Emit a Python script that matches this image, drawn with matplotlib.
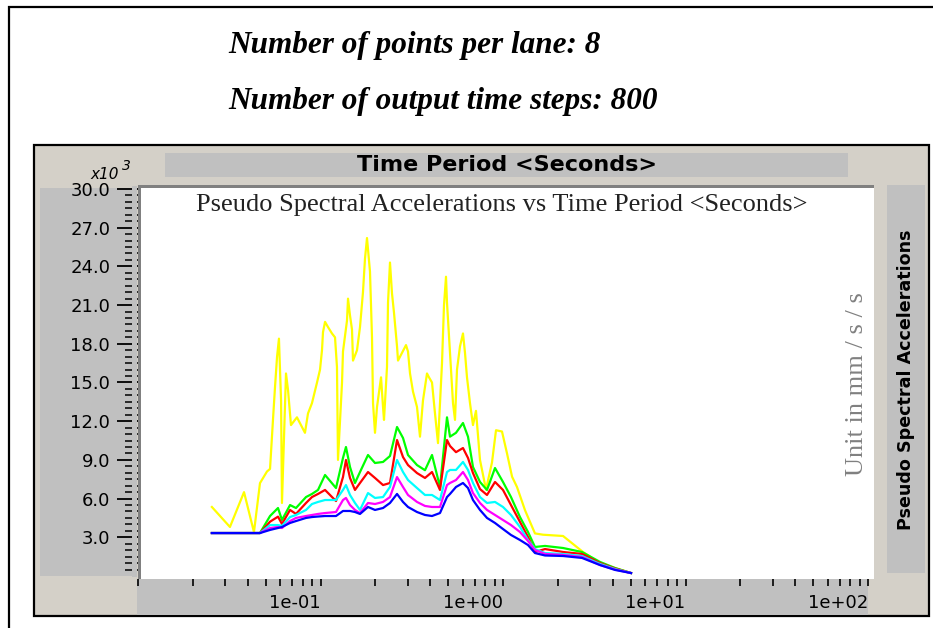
import matplotlib
matplotlib.use("Agg")
import matplotlib.pyplot as plt
from matplotlib.patches import Rectangle
from matplotlib.ticker import FixedLocator
from matplotlib import font_manager

W, H = 933, 628

# ============ DATA ============
# periods (seconds) shared by the five smoother spectra
periods = [0.0254, 0.0466, 0.0529, 0.0585, 0.0615, 0.0681, 0.0734, 0.0833, 0.0898, 0.0969,
           0.1059, 0.1216, 0.1328, 0.1379, 0.1451, 0.1545, 0.1646, 0.1821, 0.1989, 0.2201,
           0.2403, 0.2626, 0.2832, 0.3016, 0.3379, 0.3737, 0.4083, 0.4516, 0.4933, 0.5124,
           0.5526, 0.6036, 0.643, 0.6847, 0.748, 0.8172, 0.9041, 1.0, 1.106, 1.239,
           1.371, 1.497, 1.699, 2.133, 2.71, 3.40, 4.108, 5.03]

# accelerations in x10^3 mm/s/s
green = [3.33, 3.33, 4.65, 5.27, 4.34, 5.50, 5.27, 6.12, 6.36, 6.67,
         7.83, 6.82, 9.15, 10.0, 8.45, 7.21, 8.06, 9.38, 8.76, 8.84,
         9.3, 11.55, 10.7, 9.38, 8.6, 8.2, 9.38, 6.9, 12.3, 10.8,
         11.1, 11.86, 10.8, 8.45, 7.29, 6.67, 8.37, 7.29, 6.12, 4.57,
         3.41, 2.25, 2.33, 2.17, 1.86, 1.09, 0.62, 0.23]
red = [3.33, 3.33, 4.21, 4.60, 4.03, 5.12, 4.81, 5.66, 6.12, 6.36,
       6.67, 5.81, 7.67, 8.99, 7.6, 6.67, 7.21, 8.06, 7.6, 7.05,
       7.21, 10.54, 9.22, 8.6, 7.98, 7.6, 8.06, 6.67, 10.54, 10.08,
       9.6, 9.92, 9.15, 7.98, 6.74, 6.28, 7.29, 6.67, 5.5, 4.19,
       3.02, 1.86, 2.09, 1.86, 1.71, 1.0, 0.58, 0.23]
cyan = [3.33, 3.33, 3.95, 3.95, 3.88, 4.57, 4.73, 5.12, 5.58, 5.74,
        5.89, 5.89, 6.67, 7.05, 6.28, 5.66, 5.12, 6.43, 6.05, 6.12,
        6.9, 8.99, 8.06, 7.44, 6.82, 6.28, 6.28, 5.89, 8.06, 8.22,
        8.22, 8.84, 8.22, 7.21, 6.12, 5.66, 5.74, 5.35, 4.73, 3.8,
        2.79, 2.09, 1.78, 1.71, 1.55, 0.93, 0.54, 0.23]
magenta = [3.33, 3.33, 3.72, 3.80, 3.72, 4.26, 4.50, 4.65, 4.73, 4.81,
           4.88, 4.96, 5.89, 6.05, 5.5, 5.12, 4.88, 5.66, 5.58, 5.74,
           6.12, 7.67, 6.9, 6.28, 5.74, 5.43, 5.35, 5.35, 7.05, 7.21,
           7.44, 8.06, 7.44, 6.43, 5.66, 5.12, 4.73, 4.34, 3.95, 3.41,
           2.71, 2.02, 1.71, 1.63, 1.47, 0.85, 0.5, 0.23]
blue = [3.33, 3.33, 3.57, 3.72, 3.80, 4.11, 4.26, 4.50, 4.57, 4.61,
        4.65, 4.65, 5.04, 5.04, 5.04, 4.96, 4.81, 5.35, 5.12, 5.27,
        5.66, 6.36, 5.74, 5.35, 4.96, 4.73, 4.65, 4.88, 6.12, 6.36,
        6.9, 7.21, 6.82, 5.89, 5.12, 4.50, 4.11, 3.64, 3.18, 2.79,
        2.4, 1.78, 1.59, 1.55, 1.40, 0.85, 0.47, 0.23]

# the spiky top spectrum has its own periods
yellow_periods = [0.0254, 0.0319, 0.0381, 0.0432, 0.0466, 0.0509, 0.0529, 0.0549, 0.0563, 0.0578,
                  0.0592, 0.0608, 0.0615, 0.0647, 0.0664, 0.0689, 0.0743, 0.0822, 0.0854, 0.0898,
                  0.0957, 0.0994, 0.1019, 0.1032, 0.1059, 0.1099, 0.1156, 0.1201, 0.1231, 0.1247,
                  0.1312, 0.1328, 0.1397, 0.1415, 0.1451, 0.1488, 0.1507, 0.1585, 0.1646, 0.1709,
                  0.1753, 0.1798, 0.1867, 0.1915, 0.1940, 0.1989, 0.2040, 0.2146, 0.2201, 0.2228,
                  0.2314, 0.2344, 0.2403, 0.2465, 0.2528, 0.2626, 0.2659, 0.2797, 0.2941, 0.3016,
                  0.3094, 0.3212, 0.3379, 0.3509, 0.3643, 0.3833, 0.3931, 0.4083, 0.4240, 0.4404,
                  0.4632, 0.4750, 0.4872, 0.4933, 0.5124, 0.5321, 0.5457, 0.5597, 0.5812, 0.6036,
                  0.6191, 0.6349, 0.6594, 0.6847, 0.7111, 0.7480, 0.8069, 0.8703, 0.9155, 0.9874,
                  1.052, 1.121, 1.193, 1.320, 1.497, 1.657, 2.133, 2.744, 3.40, 4.108, 5.03]
yellow = [5.35, 3.80, 6.5, 3.4, 7.2, 8.1, 8.3, 12.1, 14.6, 17.0,
          18.4, 13.6, 5.66, 15.7, 14.4, 11.7, 12.3, 11.1, 12.6, 13.4,
          15.0, 16.0, 17.5, 18.9, 19.7, 19.3, 18.8, 18.5, 16.2, 9.0,
          15.0, 17.4, 19.8, 21.5, 20.2, 19.1, 16.7, 17.5, 19.3, 22.0,
          24.6, 26.2, 23.6, 18.5, 13.4, 11.1, 13.1, 15.4, 13.1, 12.1,
          16.2, 21.2, 24.3, 21.9, 20.4, 17.8, 16.7, 17.3, 17.9, 17.4,
          15.7, 14.3, 13.1, 10.8, 13.6, 15.7, 15.4, 15.0, 12.6, 10.3,
          16.5, 21.0, 23.2, 21.2, 17.3, 13.4, 12.1, 16.0, 17.8, 18.8,
          17.3, 15.4, 13.4, 11.7, 12.8, 9.0, 6.7, 8.8, 11.3, 11.2,
          9.5, 7.7, 6.9, 5.1, 3.3, 3.2, 3.1, 1.86, 1.0, 0.62, 0.23]

x_major = [0.01, 0.1, 1, 10, 100]
x_labels = ["", "1e-01", "1e+00", "1e+01", "1e+02"]
y_major = [3, 6, 9, 12, 15, 18, 21, 24, 27, 30]

BEIGE = "#D4D0C8"
PANEL = "#C0C0C0"


def frac_box(x0, y0, x1, y1):
    """pixel box (y measured from top) -> figure fraction rect"""
    return (x0 / W, 1 - y1 / H), (x1 - x0) / W, (y1 - y0) / H


def add_box(fig, x0, y0, x1, y1, z, **kw):
    xy, w, h = frac_box(x0, y0, x1, y1)
    r = Rectangle(xy, w, h, transform=fig.transFigure, zorder=z, **kw)
    fig.add_artist(r)
    return r


fig = plt.figure(figsize=(W / 100, H / 100), dpi=100)
fig.patch.set_facecolor("white")

# frames and panels
add_box(fig, 9, 7, 945, 645, -6, facecolor="white", edgecolor="black", linewidth=1.6)
add_box(fig, 34, 145, 929, 616, -5, facecolor=BEIGE, edgecolor="black", linewidth=1.6)
add_box(fig, 165, 153, 848, 177, -4, facecolor=PANEL, edgecolor="none")
add_box(fig, 40, 188, 137, 576, -4, facecolor=PANEL, edgecolor="none")
add_box(fig, 137, 579, 868, 615, -4, facecolor=PANEL, edgecolor="none")
add_box(fig, 887, 185, 925, 573, -4, facecolor=PANEL, edgecolor="none")
add_box(fig, 141, 188, 874, 579, -4, facecolor="white", edgecolor="none")
add_box(fig, 138, 185, 874, 188, -3, facecolor="#808080", edgecolor="none")
add_box(fig, 138, 185, 141, 579, -3, facecolor="#808080", edgecolor="none")

ax = fig.add_axes([138 / W, 1 - 579 / H, 730 / W, 390 / H])
ax.patch.set_alpha(0)
for s in ax.spines.values():
    s.set_visible(False)

ax.plot(yellow_periods, yellow, color="#FFFF00", lw=1.6)
ax.plot(periods, green, color="#00FF00", lw=1.6)
ax.plot(periods, red, color="#FF0000", lw=1.6)
ax.plot(periods, cyan, color="#00FFFF", lw=1.6)
ax.plot(periods, magenta, color="#FF00FF", lw=1.6)
ax.plot(periods, blue, color="#0000FF", lw=1.6)

ax.set_xscale("log")
ax.set_xlim(0.01, 100)
ax.set_ylim(-0.233, 30.0)

ax.xaxis.set_major_locator(FixedLocator(x_major))
ax.xaxis.set_minor_locator(matplotlib.ticker.LogLocator(base=10, subs=range(2, 10)))
ax.set_xticklabels(x_labels, ha="right")
ax.xaxis.set_minor_formatter(matplotlib.ticker.NullFormatter())
ax.tick_params(axis="x", which="both", direction="out", length=5, width=1.2,
               color="black", labelsize=13, pad=6, labelcolor="black")

ax.yaxis.set_major_locator(FixedLocator(y_major))
ax.yaxis.set_minor_locator(FixedLocator([v / 2 for v in range(1, 60) if v % 6 != 0]))
ax.set_yticklabels([f"{v:.1f}" for v in y_major])
ax.tick_params(axis="y", which="major", direction="out", length=15, width=1.3,
               color="black", labelsize=13, pad=5)
ax.tick_params(axis="y", which="minor", direction="out", length=9.4, width=1.1,
               color="black")

# gap between tick marks and the plot edge
add_box(fig, 132, 186, 137, 577, 5, facecolor=PANEL, edgecolor="none")

# texts
serif = "Liberation Serif"
fig.text(228 / W, 1 - 45 / H, "Number of points per lane: 8", family=serif,
         style="italic", weight="bold", size=22.5, ha="left", va="center")
fig.text(228 / W, 1 - 101 / H, "Number of output time steps: 800", family=serif,
         style="italic", weight="bold", size=22.5, ha="left", va="center")

fig.text(507 / W, 1 - 165 / H, "Time Period <Seconds>", family="DejaVu Sans",
         weight="bold", size=16, ha="center", va="center")
fig.text(502 / W, 1 - 205 / H, "Pseudo Spectral Accelerations vs Time Period <Seconds>",
         family=serif, size=19, color="#222222", ha="center", va="center")
fig.text(857 / W, 1 - 384 / H, "Unit in mm / s / s", family=serif, size=19,
         color="#808080", rotation=90, ha="center", va="center")

names = {f.name for f in font_manager.fontManager.ttflist}
if "Liberation Sans Narrow" in names:
    side = dict(family="Liberation Sans Narrow", weight="bold", size=18)
else:
    side = dict(family="DejaVu Sans", weight="bold", size=12.6)
fig.text(906 / W, 1 - 380 / H, "Pseudo Spectral Accelerations", rotation=90,
         ha="center", va="center", **side)

fig.text(119 / W, 1 - 174 / H, "x10", style="italic", size=11, ha="right", va="center")
fig.text(122 / W, 1 - 166 / H, "3", style="italic", size=10, ha="left", va="center")

fig.savefig("out.png", dpi=100)
